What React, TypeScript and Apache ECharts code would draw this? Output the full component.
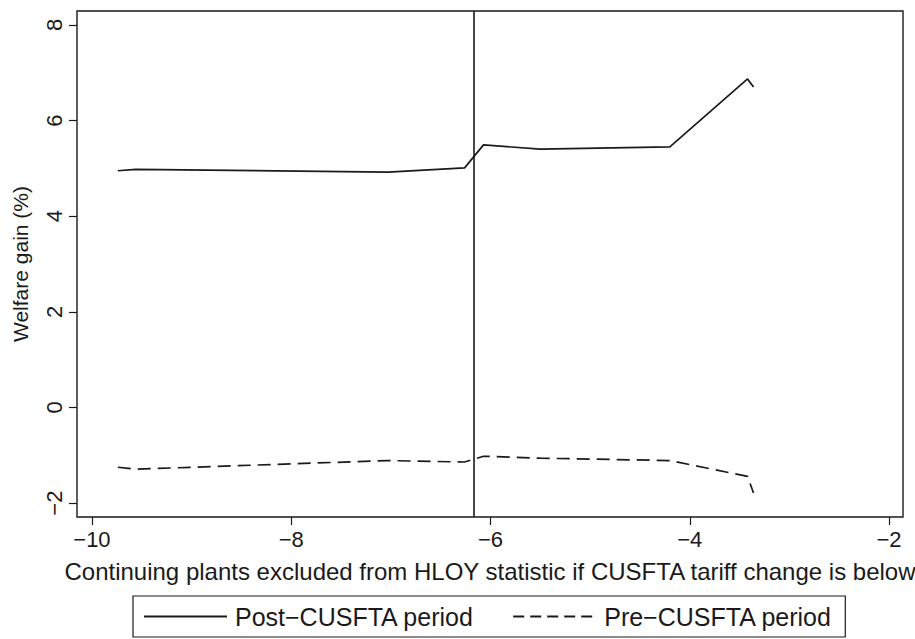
import React, { useEffect, useRef } from "react";
import * as echarts from "echarts";

const thresholds = [-9.74, -9.56, -7.03, -6.26, -6.07, -5.5, -4.2, -3.42, -3.36];
const postCusfta = [4.95, 4.98, 4.92, 5.01, 5.49, 5.4, 5.45, 6.87, 6.7];
const preCusfta = [-1.25, -1.29, -1.11, -1.14, -1.02, -1.06, -1.11, -1.44, -1.79];
const xTicks = [-10, -8, -6, -4, -2];
const yTicks = [-2, 0, 2, 4, 6, 8];
const cutoff = -6.175;
const seriesNames = ["Post\u2212CUSFTA period", "Pre\u2212CUSFTA period"];

const FONT = "'Liberation Sans', Arial, Helvetica, sans-serif";
const INK = "#1a1a1a";
const fmt = (v: number) => String(v).replace("-", "\u2212");

export default function App() {
  const ref = useRef<HTMLDivElement>(null);
  useEffect(() => {
    if (!ref.current) return;
    const chart = echarts.init(ref.current, undefined, { renderer: "svg" });
    chart.setOption({
      animation: false,
      backgroundColor: "#fff",
      textStyle: { fontFamily: FONT, color: INK },
      grid: {
        left: 77,
        right: 12,
        top: 11,
        bottom: 122,
        containLabel: false,
        outerBoundsMode: "none",
        show: true,
        borderColor: INK,
        borderWidth: 1.4,
        backgroundColor: "transparent",
      },
      xAxis: {
        type: "value",
        min: -10.15,
        max: -1.86,
        name: "Continuing plants excluded from HLOY statistic if CUSFTA tariff change is below",
        nameLocation: "middle",
        nameGap: 42,
        nameTextStyle: { fontSize: 24, color: INK, fontFamily: FONT },
        axisLine: { show: false, onZero: false },
        splitLine: { show: false },
        axisTick: { show: true, customValues: xTicks, length: 8, lineStyle: { color: INK, width: 1.2 } },
        axisLabel: {
          customValues: xTicks,
          formatter: fmt,
          fontSize: 22,
          color: INK,
          margin: 11,
          fontFamily: FONT,
        },
      },
      yAxis: {
        type: "value",
        min: -2.29,
        max: 8.29,
        name: "Welfare gain (%)",
        nameLocation: "middle",
        nameRotate: 90,
        nameGap: 46,
        nameTextStyle: { fontSize: 21, color: INK, fontFamily: FONT },
        axisLine: { show: false, onZero: false },
        splitLine: { show: false },
        axisTick: { show: true, customValues: yTicks, length: 8, lineStyle: { color: INK, width: 1.2 } },
        axisLabel: {
          customValues: yTicks,
          formatter: fmt,
          rotate: 90,
          fontSize: 22,
          color: INK,
          margin: 12,
          fontFamily: FONT,
        },
      },
      legend: {
        left: 133,
        top: 596,
        orient: "horizontal",
        borderColor: INK,
        borderWidth: 1.2,
        borderRadius: 0,
        padding: [8, 13, 8, 10],
        itemWidth: 83,
        itemHeight: 14,
        itemGap: 38,
        itemStyle: { opacity: 0 },
        textStyle: { fontSize: 25, color: INK, fontFamily: FONT, padding: [0, 0, 0, 3] },
        data: [
          { name: seriesNames[0] },
          { name: seriesNames[1], lineStyle: { type: [11, 6] } },
        ],
      },
      series: [
        {
          name: seriesNames[0],
          type: "line",
          data: thresholds.map((x, i) => [x, postCusfta[i]]),
          showSymbol: false,
          symbol: "none",
          lineStyle: { color: INK, width: 1.7, type: "solid" },
          itemStyle: { color: INK },
          markLine: {
            silent: true,
            symbol: ["none", "none"],
            label: { show: false },
            lineStyle: { color: INK, width: 1.6, type: "solid" },
            data: [{ xAxis: cutoff }],
          },
        },
        {
          name: seriesNames[1],
          type: "line",
          data: thresholds.map((x, i) => [x, preCusfta[i]]),
          showSymbol: false,
          symbol: "none",
          lineStyle: { color: INK, width: 1.7, type: [13, 7] },
          itemStyle: { color: INK },
        },
      ],
    });
    return () => chart.dispose();
  }, []);
  return <div ref={ref} style={{ width: 915, height: 639, position: "absolute", left: 0, top: 0 }} />;
}
